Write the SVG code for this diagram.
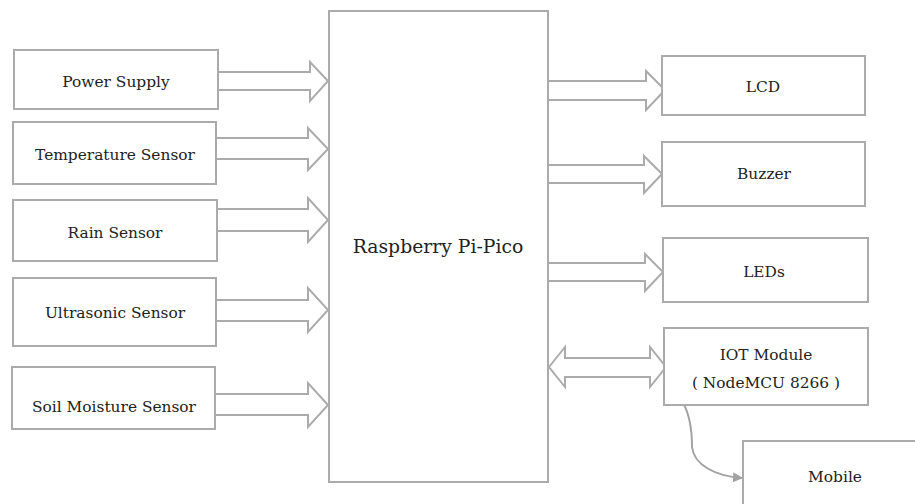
<svg xmlns="http://www.w3.org/2000/svg" width="915" height="504" viewBox="0 0 915 504">
<style>
.box{fill:#fff;stroke:#ababab;stroke-width:2}
.arr{fill:#fff;stroke:#ababab;stroke-width:2;stroke-linejoin:miter}
.t{font-family:"DejaVu Serif","Liberation Serif",serif;font-size:15.4px;fill:#222;text-anchor:middle}
.big{font-size:18.8px}
.curve{fill:none;stroke:#a3a3a3;stroke-width:2}
</style>
<defs>
<marker id="ah" markerWidth="10" markerHeight="10" refX="9" refY="5" orient="auto" markerUnits="userSpaceOnUse">
<path d="M0,0 L10,5 L0,10 Z" fill="#a3a3a3"/>
</marker>
</defs>
<g id="connectors">
<polygon class="arr" points="218,72 310,72 310,62 328,81 310,101 310,90 218,90"/>
<polygon class="arr" points="216,138 308,138 308,128 328,149 308,170 308,159 216,159"/>
<polygon class="arr" points="217,209 308,209 308,198 328,220 308,242 308,231 217,231"/>
<polygon class="arr" points="216,300 308,300 308,288 328,310 308,332 308,321 216,321"/>
<polygon class="arr" points="215,394 308,394 308,383 328,405 308,427 308,415 215,415"/>
<polygon class="arr" points="548,81 646,81 646,71 665,90 646,110 646,100 548,100"/>
<polygon class="arr" points="548,165 644,165 644,156 662,174 644,193 644,183 548,183"/>
<polygon class="arr" points="548,263 645,263 645,254 663,272 645,291 645,281 548,281"/>
<polygon class="arr" points="549,367 565,347 565,358 650,358 650,347 666,367 650,387 650,377 565,377 565,387"/>
<path class="curve" d="M683,403 C690,415 692,430 692,447 C694,465 715,476 742,478" marker-end="url(#ah)"/>
</g>
<g id="pico"><rect class="box" x="329" y="11" width="219" height="471"/><text class="t big" x="438" y="253">Raspberry Pi-Pico</text></g>
<g id="power"><rect class="box" x="14" y="50" width="204" height="59"/><text class="t" x="116" y="87">Power Supply</text></g>
<g id="temp"><rect class="box" x="13" y="122" width="203" height="62"/><text class="t" x="115" y="160">Temperature Sensor</text></g>
<g id="rain"><rect class="box" x="13" y="200" width="204" height="61"/><text class="t" x="115" y="238">Rain Sensor</text></g>
<g id="ultra"><rect class="box" x="13" y="278" width="203" height="68"/><text class="t" x="115" y="318">Ultrasonic Sensor</text></g>
<g id="soil"><rect class="box" x="12" y="367" width="203" height="62"/><text class="t" x="114" y="412">Soil Moisture Sensor</text></g>
<g id="lcd"><rect class="box" x="662" y="56" width="203" height="59"/><text class="t" x="763" y="92">LCD</text></g>
<g id="buzzer"><rect class="box" x="662" y="142" width="203" height="64"/><text class="t" x="764" y="179">Buzzer</text></g>
<g id="leds"><rect class="box" x="663" y="238" width="205" height="64"/><text class="t" x="764" y="277">LEDs</text></g>
<g id="iot"><rect class="box" x="664" y="328" width="204" height="77"/><text class="t" x="766" y="360">IOT Module</text><text class="t" x="766" y="388">( NodeMCU 8266 )</text></g>
<g id="mobile"><rect class="box" x="743" y="441" width="190" height="80"/><text class="t" x="835" y="482">Mobile</text></g>
</svg>
